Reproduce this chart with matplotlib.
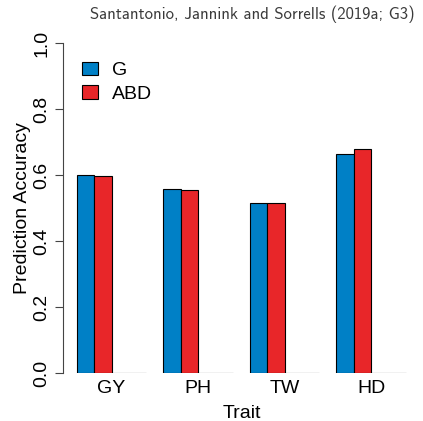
import numpy as np
import matplotlib.pyplot as plt

traits = ['GY', 'PH', 'TW', 'HD']
acc_g = [0.600, 0.558, 0.514, 0.664]
acc_abd = [0.598, 0.555, 0.514, 0.678]
acc_empty1 = [0, 0, 0, 0]
acc_empty2 = [0, 0, 0, 0]

series = [acc_g, acc_abd, acc_empty1, acc_empty2]
colors = ['#0080C6', '#E82629', 'white', 'white']
labels = ['G', 'ABD', None, None]

plt.rcParams['font.family'] = ['Liberation Sans', 'DejaVu Sans']

fig = plt.figure(figsize=(4.23, 4.21), dpi=100)
ax = fig.add_axes([63/423, 48/421, 357/423, 330/421])

# R style barplot: 4 bars per group, one bar of space between groups
for g in range(len(traits)):
    for k, s in enumerate(series):
        x = 1 + g*5 + k
        ax.bar(x, s[g], width=1, align='edge', color=colors[k],
               edgecolor='black', linewidth=0.8, label=labels[k] if g == 0 else None)

centers = [1 + g*5 + 2 for g in range(len(traits))]
ax.set_xticks(centers)
ax.set_xticklabels(traits, fontsize=14)
ax.tick_params(axis='x', length=0, pad=5)
ax.set_xlim(0.19, 20.83)
ax.set_ylim(0, 1)

ax.set_yticks([0, 0.2, 0.4, 0.6, 0.8, 1.0])
ax.set_yticklabels(['0.0', '0.2', '0.4', '0.6', '0.8', '1.0'], fontsize=14,
                   rotation=90, va='center')
ax.tick_params(axis='y', length=6, width=0.8, color='#444444', pad=3)
for sp in ['top', 'right', 'bottom']:
    ax.spines[sp].set_visible(False)
ax.spines['left'].set_color('#444444')
ax.spines['left'].set_linewidth(0.8)

ax.set_xlabel('Trait', fontsize=14, labelpad=6)
ax.set_ylabel('Prediction Accuracy', fontsize=14, labelpad=2)

handles, labs = ax.get_legend_handles_labels()
ax.legend(handles, labs, loc='upper left', bbox_to_anchor=(0.005, 0.996),
          frameon=False, fontsize=14, handlelength=0.8, handleheight=0.7,
          handletextpad=0.75, labelspacing=0.3)

fig.text(0.98, 0.967, 'Santantonio, Jannink and Sorrells (2019a; G3)',
         ha='right', va='center', fontsize=12, family='cmss10', color='#3a3a3a')

fig.savefig('out.png', dpi=100)
